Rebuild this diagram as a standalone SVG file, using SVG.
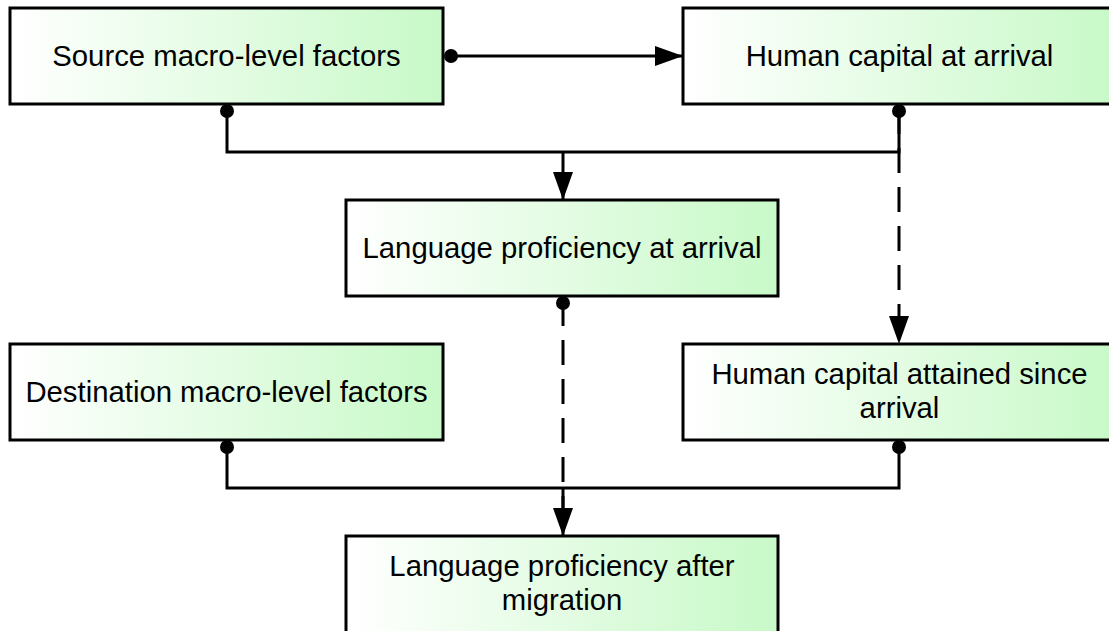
<svg xmlns="http://www.w3.org/2000/svg" width="1109" height="631" viewBox="0 0 1109 631">
  <style>
    .box { stroke: #000; stroke-width: 3; fill: url(#fillGrad); }
    .label { font-family: "Liberation Sans", Arial, sans-serif; font-size: 29.3px; fill: #000; text-anchor: middle; }
    .wire { fill: none; stroke: #000; stroke-width: 3; }
    .dash { stroke-dasharray: 25 14; stroke-dashoffset: 2; }
    .dot { fill: #000; }
  </style>
  <defs>
    <linearGradient id="fillGrad" x1="0" y1="0" x2="1" y2="0">
      <stop offset="0" stop-color="#ffffff"/>
      <stop offset="1" stop-color="#c8f9c8"/>
    </linearGradient>
    <marker id="arrow" viewBox="0 0 28 20" refX="28" refY="10" markerWidth="28" markerHeight="20" markerUnits="userSpaceOnUse" orient="auto">
      <path d="M0,0 L28,10 L0,20 Z" fill="#000"/>
    </marker>
  </defs>

  <!-- nodes -->
  <g id="source-macro">
    <rect class="box" x="10" y="8" width="433" height="96"/>
    <text class="label" x="226.5" y="66">Source macro-level factors</text>
  </g>
  <g id="human-capital-arrival">
    <rect class="box" x="683" y="8" width="433" height="96"/>
    <text class="label" x="899.5" y="66">Human capital at arrival</text>
  </g>
  <g id="language-arrival">
    <rect class="box" x="346" y="200" width="432" height="96"/>
    <text class="label" x="562" y="258">Language proficiency at arrival</text>
  </g>
  <g id="destination-macro">
    <rect class="box" x="10" y="344" width="433" height="96"/>
    <text class="label" x="226.5" y="402">Destination macro-level factors</text>
  </g>
  <g id="human-capital-since">
    <rect class="box" x="683" y="344" width="433" height="96"/>
    <text class="label" x="899.5" y="384">Human capital attained since</text>
    <text class="label" x="899.5" y="418">arrival</text>
  </g>
  <g id="language-after">
    <rect class="box" x="346" y="536" width="432" height="110"/>
    <text class="label" x="562" y="576">Language proficiency after</text>
    <text class="label" x="562" y="610">migration</text>
  </g>

  <!-- connectors -->
  <g id="connectors">
    <path class="wire" d="M451,56 H683" marker-end="url(#arrow)"/>
    <path class="wire" d="M227,111 V152 H899 V111"/>
    <path class="wire" d="M563,152 V200" marker-end="url(#arrow)"/>
    <path class="wire dash" d="M899,111 V344" marker-end="url(#arrow)"/>
    <path class="wire dash" d="M563,303 V536"/>
    <path class="wire" d="M227,447 V488 H899 V447"/>
    <path class="wire" d="M563,488 V536" marker-end="url(#arrow)"/>
    <circle class="dot" cx="451" cy="56" r="7"/>
    <circle class="dot" cx="227" cy="111" r="7"/>
    <circle class="dot" cx="899" cy="111" r="7"/>
    <circle class="dot" cx="563" cy="303" r="7"/>
    <circle class="dot" cx="227" cy="447" r="7"/>
    <circle class="dot" cx="899" cy="447" r="7"/>
  </g>
</svg>
